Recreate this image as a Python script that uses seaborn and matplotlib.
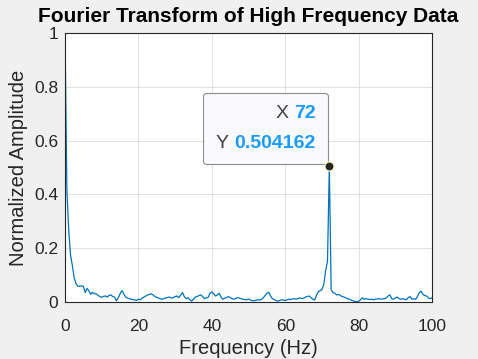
import numpy as np
import pandas as pd
import matplotlib
matplotlib.use("Agg")
import matplotlib.pyplot as plt
import seaborn as sns
from matplotlib.offsetbox import TextArea, HPacker, VPacker, AnnotationBbox

# ---------------------------------------------------------------------------
# Data: normalized FFT amplitude, 0.5 Hz resolution, 0..100 Hz
# ---------------------------------------------------------------------------
freq_step = 0.5
amplitude = [
    1.000, 0.420, 0.270, 0.175, 0.135, 0.090, 0.068, 0.058, 0.058, 0.060,
    0.058, 0.035, 0.050, 0.042, 0.028, 0.036, 0.030, 0.030, 0.024, 0.020,
    0.017, 0.021, 0.022, 0.018, 0.024, 0.026, 0.020, 0.018, 0.004, 0.015,
    0.030, 0.042, 0.030, 0.018, 0.014, 0.012, 0.010, 0.009, 0.007, 0.006,
    0.010, 0.008, 0.014, 0.018, 0.022, 0.026, 0.028, 0.030, 0.026, 0.020,
    0.017, 0.014, 0.012, 0.010, 0.013, 0.015, 0.017, 0.018, 0.014, 0.016,
    0.020, 0.022, 0.016, 0.025, 0.035, 0.020, 0.012, 0.016, 0.008, 0.003,
    0.010, 0.018, 0.020, 0.024, 0.026, 0.020, 0.012, 0.015, 0.017, 0.033,
    0.037, 0.030, 0.022, 0.026, 0.032, 0.018, 0.010, 0.014, 0.016, 0.020,
    0.016, 0.012, 0.010, 0.013, 0.016, 0.014, 0.012, 0.010, 0.009, 0.008,
    0.011, 0.007, 0.005, 0.004, 0.006, 0.008, 0.007, 0.009, 0.015, 0.024,
    0.032, 0.036, 0.022, 0.012, 0.009, 0.005, 0.003, 0.006, 0.008, 0.007,
    0.005, 0.008, 0.010, 0.009, 0.011, 0.012, 0.010, 0.013, 0.015, 0.012,
    0.014, 0.018, 0.020, 0.022, 0.016, 0.010, 0.007, 0.025, 0.038, 0.042,
    0.046, 0.065, 0.118, 0.150, 0.504162, 0.045, 0.035, 0.032, 0.026, 0.028,
    0.024, 0.020, 0.018, 0.015, 0.012, 0.010, 0.006, 0.004, 0.002, 0.000,
    0.003, 0.008, 0.015, 0.010, 0.012, 0.010, 0.009, 0.010, 0.008, 0.010,
    0.011, 0.012, 0.010, 0.011, 0.012, 0.015, 0.022, 0.026, 0.012, 0.010,
    0.015, 0.018, 0.012, 0.010, 0.012, 0.010, 0.008, 0.016, 0.020, 0.010,
    0.012, 0.010, 0.020, 0.035, 0.040, 0.028, 0.024, 0.022, 0.015, 0.012,
    0.016,
]
frequency = np.arange(len(amplitude)) * freq_step

x_ticks = [0, 20, 40, 60, 80, 100]
y_ticks = [0, 0.2, 0.4, 0.6, 0.8, 1]
y_tick_labels = ["0", "0.2", "0.4", "0.6", "0.8", "1"]

tip_x = 72
tip_y = 0.504162

df = pd.DataFrame({"frequency": frequency, "amplitude": amplitude})

# ---------------------------------------------------------------------------
# Style (MATLAB-like look)
# ---------------------------------------------------------------------------
sns.set_style("whitegrid")
plt.rcParams["font.family"] = ["Liberation Sans", "DejaVu Sans"]

fig = plt.figure(figsize=(4.78, 3.59), dpi=100, facecolor="#f0f0f0")
ax = fig.add_axes([0.136, 0.159, 0.768, 0.749])
ax.set_facecolor("white")

sns.lineplot(data=df, x="frequency", y="amplitude", color="#0072BD",
             linewidth=0.9, ax=ax)

ax.set_xlim(0, 100)
ax.set_ylim(0, 1)
ax.set_xticks(x_ticks)
ax.set_yticks(y_ticks)
ax.set_yticklabels(y_tick_labels)
ax.tick_params(axis="both", direction="in", length=3, width=0.6,
               labelsize=12.5, colors="#262626")
ax.tick_params(axis="x", pad=12)
ax.tick_params(axis="y", pad=5)
ax.grid(True, color="#dcdcdc", linewidth=0.6)
for side in ["left", "bottom", "top", "right"]:
    ax.spines[side].set_visible(True)
    ax.spines[side].set_color("#262626")
    ax.spines[side].set_linewidth(0.8)

ax.set_title("Fourier Transform of High Frequency Data", fontsize=15,
             fontweight="bold", color="black", pad=8)
ax.set_xlabel("Frequency (Hz)", fontsize=14.5, color="#262626", labelpad=4)
ax.set_ylabel("Normalized Amplitude", fontsize=14.5, color="#262626",
              labelpad=4)

# ---------------------------------------------------------------------------
# Data tip
# ---------------------------------------------------------------------------
ax.plot([tip_x], [tip_y], marker="o", markersize=6.5, color="#262626",
        markeredgecolor="#ffffc0", markeredgewidth=0.8, zorder=8,
        clip_on=False)

lab = dict(size=14, color="#404040")
val = dict(size=14, color="#1a9bff", fontweight="bold")
row_x = HPacker(children=[TextArea("X", textprops=lab),
                          TextArea(f"{tip_x:g}", textprops=val)],
                align="baseline", pad=0, sep=4)
row_y = HPacker(children=[TextArea("Y", textprops=lab),
                          TextArea(f"{tip_y:g}", textprops=val)],
                align="baseline", pad=0, sep=4)
box = VPacker(children=[row_x, row_y], align="right", pad=3, sep=9)
ab = AnnotationBbox(box, (tip_x, tip_y), xybox=(-7, 7.5),
                    xycoords="data", boxcoords="offset points",
                    box_alignment=(1, 0), pad=0.6,
                    bboxprops=dict(boxstyle="round,pad=0.6,rounding_size=0.25",
                                   fc="#f9f9fe", ec="#8c8c8c", lw=0.8),
                    zorder=6)
ax.add_artist(ab)

fig.savefig("out.png", dpi=100, facecolor=fig.get_facecolor())
